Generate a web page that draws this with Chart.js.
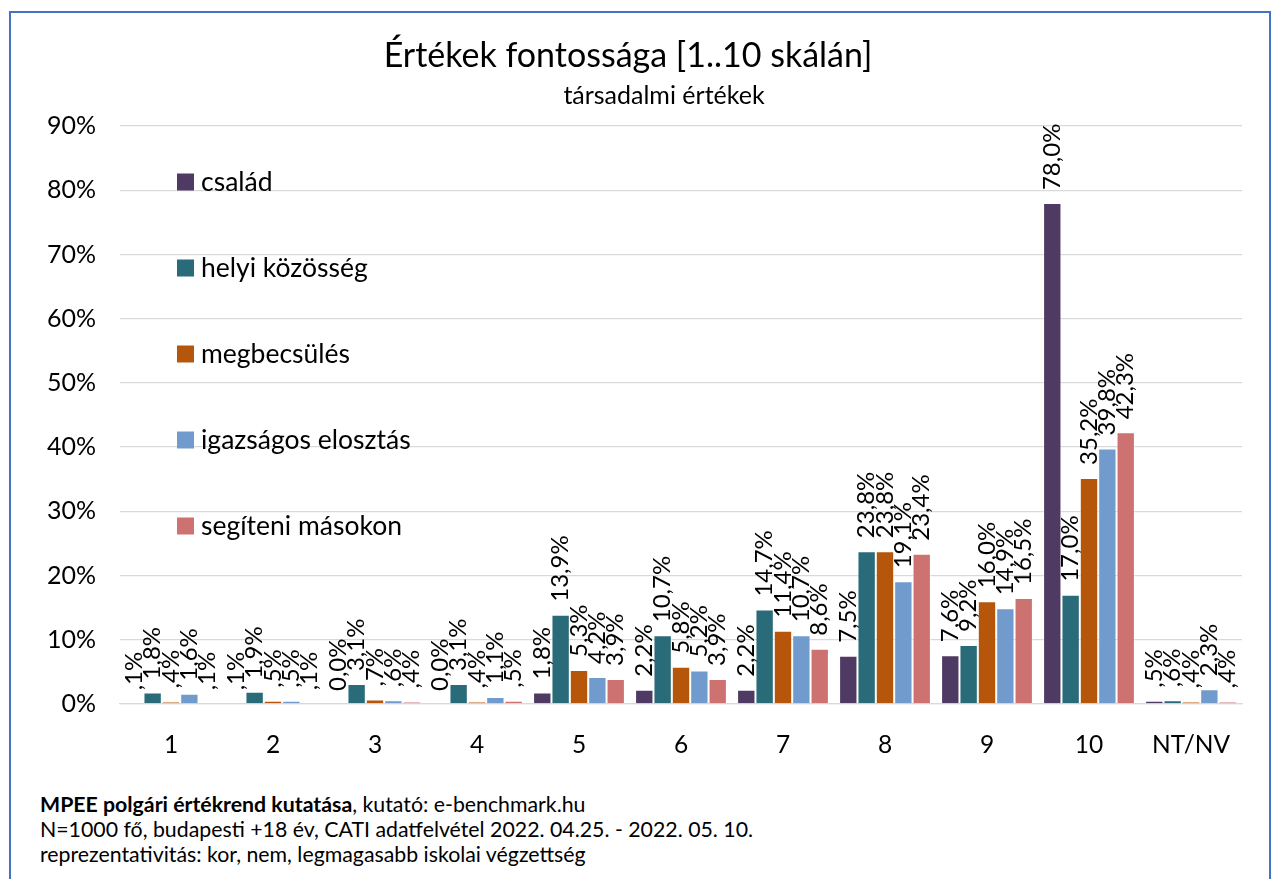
<!DOCTYPE html>
<html>
<head>
<meta charset="utf-8">
<script src="https://cdn.jsdelivr.net/npm/chart.js@4/dist/chart.umd.min.js"></script>
<style>
  body { margin: 0; background: #fff; font-family: Lato, sans-serif; }
  #frame { position: absolute; left: 9px; top: 11px; width: 1258px; height: 900px; border: 2px solid #4472C4; }
  #c { position: absolute; left: 0; top: 0; }
  #foot { position: absolute; left: 40px; top: 792px; font-size: 21.3px; line-height: 25px; color: #000; }
</style>
</head>
<body>
<div id="frame"></div>
<canvas id="c" width="1271" height="780"></canvas>
<div id="foot">
  <b>MPEE polgári értékrend kutatása</b>, kutató: e-benchmark.hu<br>
  N=1000 fő, budapesti +18 év, CATI adatfelvétel 2022. 04.25. - 2022. 05. 10.<br>
  reprezentativitás: kor, nem, legmagasabb iskolai végzettség
</div>
<script>
const categories = ["1","2","3","4","5","6","7","8","9","10","NT/NV"];
const seriesNames = ["család","helyi közösség","megbecsülés","igazságos elosztás","segíteni másokon"];
const csalad     = [0.1, 0.1, 0.0, 0.0, 1.8, 2.2, 2.2, 7.5, 7.6, 78.0, 0.5];
const helyi      = [1.8, 1.9, 3.1, 3.1, 13.9, 10.7, 14.7, 23.8, 9.2, 17.0, 0.6];
const megbecsul  = [0.4, 0.5, 0.7, 0.4, 5.3, 5.8, 11.4, 23.8, 16.0, 35.2, 0.4];
const igazsagos  = [1.6, 0.5, 0.6, 1.1, 4.2, 5.2, 10.7, 19.1, 14.9, 39.8, 2.3];
const segiteni   = [0.1, 0.1, 0.4, 0.5, 3.9, 3.9, 8.6, 23.4, 16.5, 42.3, 0.4];
const yTicks = [0,10,20,30,40,50,60,70,80,90];
const colors = ["#4E3A62","#2A6B7A","#B5560A","#729BCD","#CD7271"];
const subtitleText = "társadalmi értékek";

function fmt(v) {
  let s = v.toFixed(1).replace(".", ",");
  if (v > 0 && v < 1) s = s.slice(1);
  return s + "%";
}

const barLabels = {
  id: "barLabels",
  afterDatasetsDraw(chart) {
    const ctx = chart.ctx;
    ctx.save();
    ctx.fillStyle = "#000";
    ctx.font = "24px Lato";
    ctx.textAlign = "left";
    ctx.textBaseline = "middle";
    chart.data.datasets.forEach((ds, i) => {
      chart.getDatasetMeta(i).data.forEach((bar, j) => {
        ctx.save();
        ctx.translate(bar.x, bar.y - 13);
        ctx.rotate(-Math.PI / 2);
        ctx.fillText(fmt(ds.data[j]), 0, 0);
        ctx.restore();
      });
    });
    ctx.restore();
  }
};

// legend sits inside the plot, and the subtitle is a bit right of centre
const insideLegend = {
  id: "insideLegend",
  afterDraw(chart) {
    const ctx = chart.ctx;
    ctx.save();
    ctx.font = "26.5px Lato";
    ctx.textBaseline = "middle";
    chart.data.datasets.forEach((ds, i) => {
      const y = 182 + i * 86;
      ctx.fillStyle = ds.backgroundColor;
      ctx.fillRect(177, y - 8.5, 17, 17);
      ctx.fillStyle = "#000";
      ctx.fillText(ds.label, 201, y);
    });
    ctx.font = "25px Lato";
    ctx.textAlign = "center";
    ctx.fillText(subtitleText, 664, 96);
    ctx.restore();
  }
};

const series = [csalad, helyi, megbecsul, igazsagos, segiteni];

new Chart(document.getElementById("c"), {
  type: "bar",
  data: {
    labels: categories,
    datasets: series.map((d, i) => ({
      label: seriesNames[i],
      data: d,
      backgroundColor: colors[i],
      borderColor: "rgba(255,255,255,0.5)",
      borderWidth: 1,
      categoryPercentage: 0.9,
      barPercentage: 1.0
    }))
  },
  options: {
    responsive: false,
    animation: false,
    devicePixelRatio: 1,
    layout: { padding: { left: 14, right: 29, top: 0, bottom: 0 } },
    plugins: {
      legend: { display: false },
      tooltip: { enabled: false },
      title: {
        display: true,
        text: "Értékek fontossága [1..10 skálán]",
        color: "#000",
        font: { family: "Lato", size: 34, weight: "normal" },
        padding: { top: 36, bottom: 49.2 }
      }
    },
    scales: {
      x: {
        grid: { display: false, drawTicks: false },
        border: { color: "#d9d9d9", width: 1.3 },
        ticks: { color: "#000", font: { family: "Lato", size: 24.5 }, padding: 26 },
        afterFit(scale) { scale.height = 76; }
      },
      y: {
        min: 0,
        max: 90,
        afterBuildTicks(scale) { scale.ticks = yTicks.map(v => ({ value: v })); },
        grid: { color: "#d9d9d9", lineWidth: 1.3, drawTicks: false },
        border: { display: false },
        ticks: { color: "#000", font: { family: "Lato", size: 25 }, padding: 24, callback: v => v + "%" },
        afterFit(scale) { scale.width = 106; }
      }
    }
  },
  plugins: [barLabels, insideLegend]
});
</script>
</body>
</html>
